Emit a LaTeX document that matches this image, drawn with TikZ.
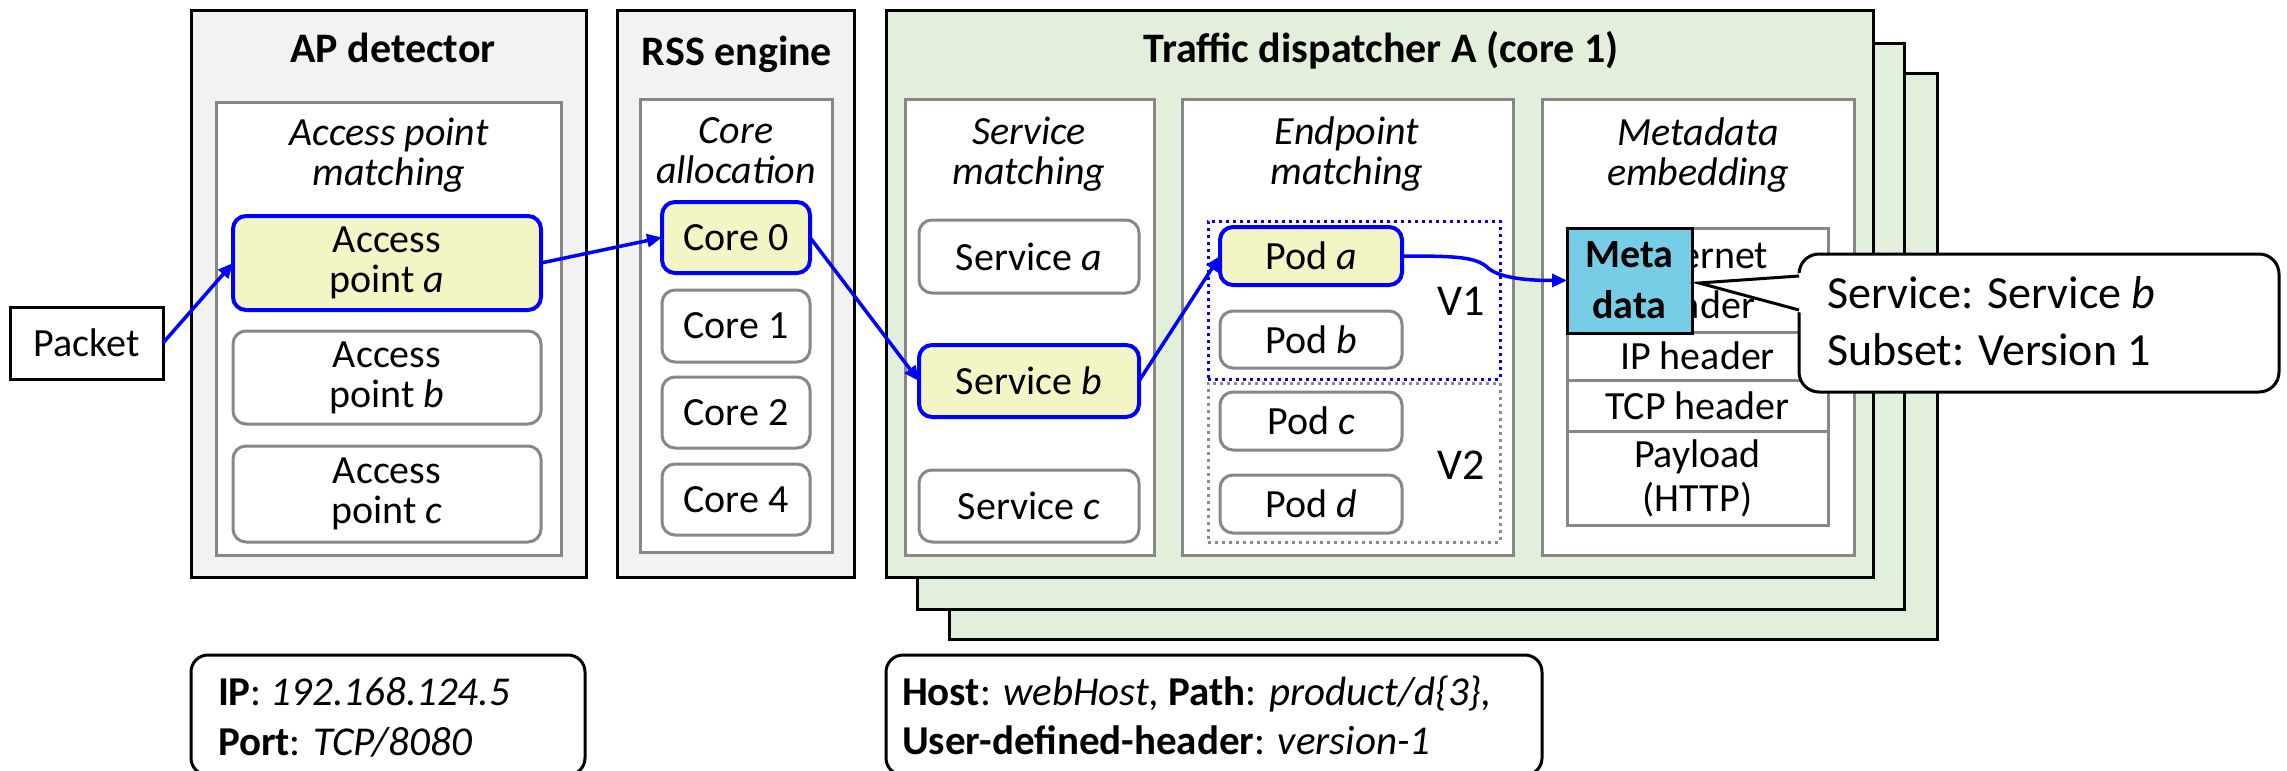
\documentclass[tikz,border=0pt]{standalone}
\usepackage{fontspec}
\setmainfont{Carlito}
\usetikzlibrary{arrows.meta}

\definecolor{panelgray}{HTML}{F2F2F2}
\definecolor{panelgreen}{HTML}{E2EFDA}
\definecolor{hotfill}{HTML}{F3F6C4}
\definecolor{metafill}{HTML}{77CDE6}
\definecolor{rimgray}{HTML}{878787}
\definecolor{dotgray}{HTML}{8C8C8C}
\definecolor{flowblue}{HTML}{0000FF}

% box from its corners: name, x1, y1, x2, y2, style, text
\newcommand\place[7]{%
  \node[#6, minimum width={(#4)-(#2)}, minimum height={(#5)-(#3)}]
    (#1) at ({((#2)+(#4))/2},{((#3)+(#5))/2}) {#7};}
% two lines whose baseline is the first line's
\newcommand\stackedc[2]{\begin{tabular}[t]{@{}c@{}}#1\\#2\end{tabular}}
\newcommand\stackedl[2]{\begin{tabular}[t]{@{}l@{}}#1\\#2\end{tabular}}

\tikzset{
  every node/.style={inner sep=0pt, outer sep=0pt, font=\fontsize{40}{40}\selectfont},
  panel/.style={draw=black, line width=3pt, fill=panelgray},
  greenpanel/.style={panel, fill=panelgreen},
  stage/.style={draw=rimgray, line width=3pt, fill=white},
  entry/.style={draw=rimgray, line width=3pt, fill=white, rounded corners=13pt, align=center},
  chosen/.style={entry, draw=flowblue, line width=4pt, fill=hotfill},
  title/.style={font=\fontsize{42}{50}\selectfont\bfseries, anchor=base},
  header/.style={font=\fontsize{40}{40}\selectfont\itshape, anchor=base},
  vgroup/.style={line width=3pt, dash pattern=on 3pt off 4pt},
  cell/.style={draw=rimgray, line width=3pt, fill=white, align=center},
  metabox/.style={draw=black, line width=3pt, fill=metafill, align=center,
    font=\fontsize{40}{51}\selectfont\bfseries},
  infobox/.style={draw=black, line width=3pt, fill=white, rounded corners=17pt},
  flow/.style={draw=flowblue, line width=3.5pt, -{Triangle[length=15pt,width=13pt]}},
}

\begin{document}
\begin{tikzpicture}[x=1pt, y=-1pt]
\useasboundingbox (0,0) rectangle (2287,771);

% ---- traffic dispatchers, one per core (stacked copies behind) ----
\place{disp3}{949}{73}{1937}{639}{greenpanel}{}
\place{disp2}{917}{43}{1904}{609}{greenpanel}{}
\place{disp1}{886}{10}{1873}{577}{greenpanel}{}
\node[title] (disptitle) at (1381,62) {Traffic dispatcher A (core 1)};

% ---- packet ----
\place{packet}{10}{307}{163}{379}{draw=black, line width=3pt, fill=white}{Packet}

% ---- AP detector ----
\place{ap}{191}{10}{586}{577}{panel}{}
\node[title] (aptitle) at (393,62) {AP detector};
\place{apstage}{216}{102}{561}{555}{stage}{}
\node[header] (aphead) at (389,145) {\stackedc{Access point}{matching}};
\place{apa}{233}{216}{541}{310}{chosen}{Access\\point \textit{a}}
\place{apb}{233}{331}{541}{424}{entry}{Access\\point \textit{b}}
\place{apc}{233}{446}{541}{542}{entry}{Access\\point \textit{c}}

% ---- RSS engine ----
\place{rss}{617}{10}{854}{577}{panel}{}
\node[title] (rsstitle) at (737,65) {RSS engine};
\place{corestage}{640}{99}{832}{552}{stage}{}
\node[header] (corehead) at (736,143) {\stackedc{Core}{allocation}};
\place{core0}{662}{202}{810}{273}{chosen}{Core 0}
\place{core1}{662}{290}{810}{362}{entry}{Core 1}
\place{core2}{662}{377}{810}{448}{entry}{Core 2}
\place{core4}{662}{464}{810}{535}{entry}{Core 4}

% ---- service matching ----
\place{svcstage}{905}{99}{1154}{555}{stage}{}
\node[header] (svchead) at (1029,144) {\stackedc{Service}{matching}};
\place{svca}{919}{220}{1139}{293}{entry}{Service \textit{a}}
\place{svcb}{919}{345}{1139}{417}{chosen}{Service \textit{b}}
\place{svcc}{919}{470}{1139}{542}{entry}{Service \textit{c}}

% ---- endpoint matching ----
\place{epstage}{1182}{99}{1513}{555}{stage}{}
\node[header] (ephead) at (1347,144) {\stackedc{Endpoint}{matching}};
\place{vone}{1208}{221}{1500}{379}{vgroup, draw=flowblue}{}
\place{vtwo}{1208}{383}{1500}{542}{vgroup, draw=dotgray}{}
\node[anchor=base, font=\fontsize{44}{44}\selectfont] (vonelabel) at (1461,315) {V1};
\node[anchor=base, font=\fontsize{44}{44}\selectfont] (vtwolabel) at (1461,479) {V2};
\place{poda}{1220}{227}{1402}{285}{chosen}{Pod \textit{a}}
\place{podb}{1220}{311}{1402}{368}{entry}{Pod \textit{b}}
\place{podc}{1220}{392}{1402}{450}{entry}{Pod \textit{c}}
\place{podd}{1220}{475}{1402}{533}{entry}{Pod \textit{d}}

% ---- metadata embedding ----
\place{mdstage}{1542}{99}{1854}{555}{stage}{}
\node[header] (mdhead) at (1698,145) {\stackedc{Metadata}{embedding}};
\place{eth}{1567}{228}{1828}{332}{cell, font=\fontsize{40}{50}\selectfont}{Ethernet\\header}
\place{iphdr}{1567}{332}{1828}{380}{cell}{IP header}
\place{tcphdr}{1567}{380}{1828}{431}{cell}{TCP header}
\place{payload}{1567}{431}{1828}{525}{cell, font=\fontsize{40}{44}\selectfont}{Payload\\(HTTP)}
\place{meta}{1567}{228}{1692}{333}{metabox}{Meta\\data}

% ---- flow of the packet ----
\draw[flow] (packet.east) -- (apa.west);
\draw[flow] (apa.east) -- (core0.west);
\draw[flow] (core0.east) -- (svcb.west);
\draw[flow] (svcb.east) -- (poda.west);
\coordinate (kink) at (1487,267);
\draw[flow] (poda.east) .. controls +(55,0) and +(-12,-10) .. (kink)
  .. controls +(10,10) and +(-45,0) .. (meta.west);

% ---- callout with the embedded metadata ----
\place{note}{1799}{254}{2279}{392}{draw=black, line width=3pt, fill=white, rounded corners=20pt}{}
\coordinate (tip) at (1699,283);
\coordinate (ptop) at (1799,276);
\coordinate (pbot) at (1799,310);
\fill[white] (tip) -- (1802,273) -- (1802,313) -- cycle;
\draw[line width=3pt, line join=miter] (ptop) -- (tip) -- (pbot);
\node[anchor=base west, font=\fontsize{46}{57}\selectfont] (notetext) at (1827,308)
  {\stackedl{Service: Service \textit{b}}{Subset: Version 1}};

% ---- matching rules ----
\place{ipbox}{191}{655}{585}{775}{infobox}{}
\node[anchor=base west, font=\fontsize{41}{50}\selectfont] (iptext) at (218,705)
  {\stackedl{\textbf{IP}: \textit{192.168.124.5}}{\textbf{Port}: \textit{TCP/8080}}};
\place{hostbox}{886}{655}{1542}{775}{infobox}{}
\node[anchor=base west, font=\fontsize{41}{49}\selectfont] (hosttext) at (902,705)
  {\stackedl{\textbf{Host}: \textit{webHost,} \textbf{Path}: \textit{product/d\{3\},}}{\textbf{User-defined-header}: \textit{version-1}}};
\end{tikzpicture}
\end{document}
